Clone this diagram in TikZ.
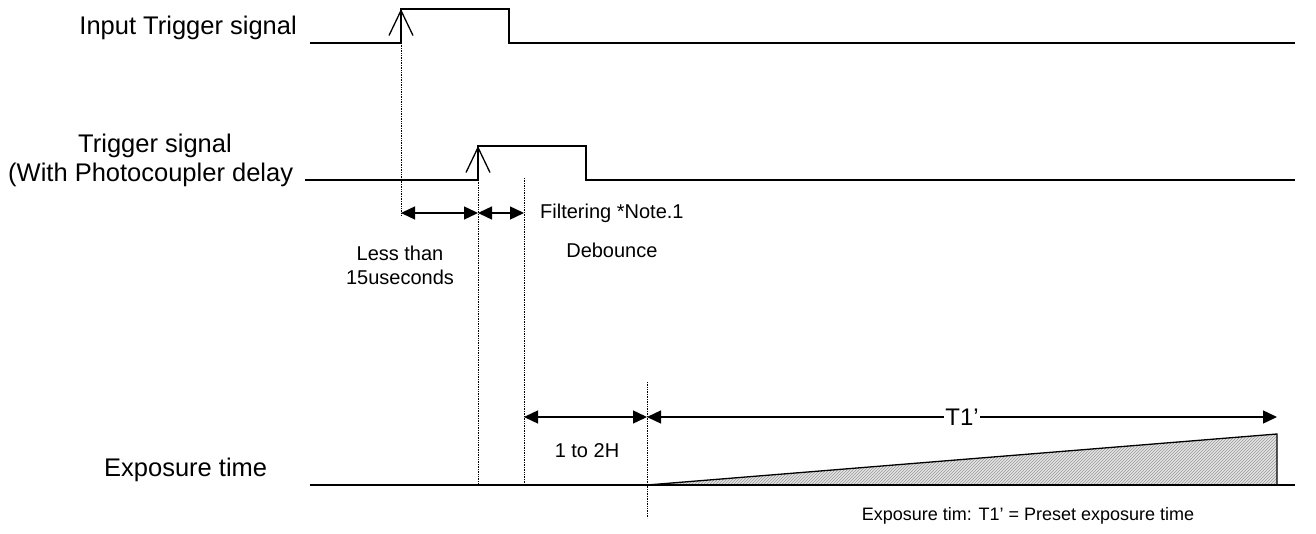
\documentclass[tikz,border=0pt]{standalone}
\usepackage{fontspec}
\setmainfont{Liberation Sans}
\usetikzlibrary{arrows.meta}
\usetikzlibrary{patterns}

\tikzset{
  sig/.style={line width=1.6pt},
  guide/.style={densely dotted, line width=0.7pt},
  dim/.style={line width=1.4pt, {Triangle[length=14pt,width=13pt]}-{Triangle[length=14pt,width=13pt]}},
  rise/.style={line width=1.3pt, -{Straight Barb[length=25pt,width=24pt]}},
  biglbl/.style={font=\fontsize{25.5}{30}\selectfont, inner sep=0pt},
  smalllbl/.style={font=\fontsize{20}{24}\selectfont, inner sep=0pt, align=center},
}

\begin{document}
\begin{tikzpicture}[x=1pt, y=-1pt]
    \useasboundingbox (0,0) rectangle (1316,534);
    \node [biglbl, anchor=base east] (inlbl) at (297,35) {Input Trigger signal};
    \node [biglbl, anchor=base] (trglbl) at (155,153) {Trigger signal};
    \node [biglbl, anchor=base west] (delaylbl) at (8,182) {(With Photocoupler delay};
    \node [biglbl, anchor=base west] (explbl) at (104,476) {Exposure time};
    \coordinate (in0) at (310,43);  \coordinate (inup) at (401,43);
    \coordinate (inhi) at (401,9);  \coordinate (indn) at (509,9);
    \coordinate (inlo) at (509,43); \coordinate (inend) at (1295,43);
    \draw [sig] (in0) -- (inup) -- (inhi) -- (indn) -- (inlo) -- (inend);
    \draw [rise] (inup) -- (inhi);
    \coordinate (tr0) at (305,180);  \coordinate (trup) at (478,180);
    \coordinate (trhi) at (478,146); \coordinate (trdn) at (586,146);
    \coordinate (trlo) at (586,180); \coordinate (trend) at (1295,180);
    \draw [sig] (tr0) -- (trup) -- (trhi) -- (trdn) -- (trlo) -- (trend);
    \draw [rise] (trup) -- (trhi);
    \coordinate (ex0) at (310,485); \coordinate (exup) at (647,485);
    \coordinate (extop) at (1277,434); \coordinate (exbot) at (1277,485);
    \coordinate (exend) at (1295,485);
    \fill [pattern=north east lines, pattern color=gray!80, preaction={fill=gray!20}] (exup) -- (extop) -- (exbot) -- cycle;
    \draw [sig] (ex0) -- (exend);
    \draw [line width=1.3pt] (exup) -- (extop) -- (exbot);
    \coordinate (g1a) at (401,215); \coordinate (g2a) at (478,485);
    \coordinate (g3t) at (524,178); \coordinate (g3a) at (524,485);
    \coordinate (g4t) at (647,382); \coordinate (g4a) at (647,518);
    \draw [guide] (inup) -- (g1a);
    \draw [guide] (trup) -- (g2a);
    \draw [guide] (g3t) -- (g3a);
    \draw [guide] (g4t) -- (g4a);
    \coordinate (d1) at (401,213); \coordinate (d2) at (478,213); \coordinate (d3) at (524,213);
    \draw [dim] (d1) -- (d2);
    \draw [dim] (d2) -- (d3);
    \coordinate (e1) at (524,417); \coordinate (e2) at (647,417); \coordinate (e3) at (1277,417);
    \draw [dim] (e1) -- (e2);
    \draw [dim] (e2) -- node [fill=white, inner sep=1pt, font=\fontsize{24}{28}\selectfont] (tlbl) {T1'} (e3);
    \node [smalllbl] (lesslbl) at (400,265) {Less than\\15useconds};
    \node [smalllbl, anchor=west] (filtlbl) at (540,213) {Filtering *Note.1};
    \node [smalllbl] (deblbl) at (filtlbl.center |- 0,250) {Debounce};
    \node [smalllbl] (hlbl) at (587,451) {1 to 2H};
    \node [smalllbl, font=\fontsize{18}{22}\selectfont] (notelbl) at (1028,516) {Exposure tim: T1' = Preset exposure time};
\end{tikzpicture}
\end{document}
